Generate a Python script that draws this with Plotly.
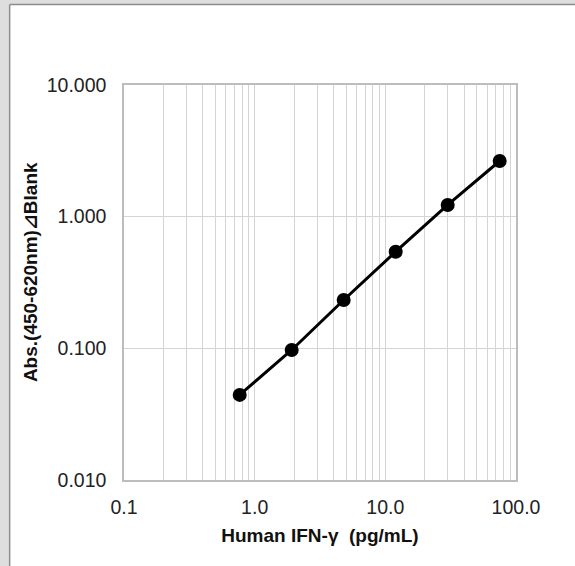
import plotly.graph_objects as go

# Data
conc_pg_ml = [0.768, 1.92, 4.8, 12.0, 30.0, 75.0]
absorbance = [0.0443, 0.0972, 0.233, 0.542, 1.227, 2.648]

x_tick_vals = [0.1, 1, 10, 100]
x_tick_text = ["0.1", "1.0", "10.0", "100.0"]
y_tick_vals = [0.01, 0.1, 1, 10]
y_tick_text = ["0.010", "0.100", "1.000", "10.000"]
x_minor_vals = [m * d for d in (0.1, 1, 10) for m in range(2, 10)]

x_title = "Human IFN-γ  (pg/mL)"
y_title = "Abs.(450-620nm)<span style='font-family:DejaVu Sans'>⊿</span>Blank"

W, H = 575, 566
ML, MR, MT, MB = 124, 58.5, 85, 86
PW = W - ML - MR
PH = H - MT - MB

def px(x):
    return (x - ML) / PW

def py(y):
    return (H - MB - y) / PH

fig = go.Figure()
fig.add_trace(go.Scatter(
    x=conc_pg_ml, y=absorbance, mode="lines+markers",
    line=dict(color="black", width=3),
    marker=dict(color="black", size=14),
    showlegend=False,
))

grid = "#d4d4d4"
frame = "#bdbdbd"
font = "Liberation Sans, Arial, sans-serif"

fig.update_xaxes(
    type="log", range=[-1, 2],
    tickvals=x_tick_vals, ticktext=x_tick_text,
    showgrid=True, gridcolor=grid, gridwidth=1,
    minor=dict(tickvals=x_minor_vals, showgrid=True, gridcolor=grid, gridwidth=1, ticks=""),
    showline=True, linecolor=frame, linewidth=1.5, mirror=True,
    ticks="", ticklen=0, ticklabelstandoff=9,
    tickfont=dict(family=font, size=19.5, color="#222"),
    title=dict(text="<b>" + x_title + "</b>", font=dict(family=font, size=19, color="#111"), standoff=12),
    zeroline=False,
)
fig.update_yaxes(
    type="log", range=[-2, 1],
    tickvals=y_tick_vals, ticktext=y_tick_text,
    showgrid=True, gridcolor=grid, gridwidth=1,
    showline=True, linecolor=frame, linewidth=1.5, mirror=True,
    ticks="", ticklen=0, ticklabelstandoff=12,
    tickfont=dict(family=font, size=19.5, color="#222"),
    zeroline=False,
)

fig.add_annotation(
    text="<b>" + y_title + "</b>", textangle=-90,
    xref="paper", yref="paper", x=px(30), y=py(272),
    xanchor="center", yanchor="middle", showarrow=False,
    font=dict(family=font, size=19, color="#111"),
)

shapes = [
    dict(type="rect", xref="paper", yref="paper", x0=px(-5), x1=px(9), y0=py(H + 5), y1=py(-5),
         fillcolor="#dedede", line=dict(width=0), layer="below"),
    dict(type="rect", xref="paper", yref="paper", x0=px(-5), x1=px(W + 5), y0=py(4.5), y1=py(-5),
         fillcolor="#dedede", line=dict(width=0), layer="below"),
    dict(type="line", xref="paper", yref="paper", x0=px(9.5), x1=px(9.5), y0=py(4.5), y1=py(H + 5),
         line=dict(color="#8c8c8c", width=1.5)),
    dict(type="line", xref="paper", yref="paper", x0=px(9.5), x1=px(W + 5), y0=py(4.5), y1=py(4.5),
         line=dict(color="#8c8c8c", width=1.5)),
]

fig.update_layout(
    width=W, height=H,
    margin=dict(l=ML, r=MR, t=MT, b=MB),
    paper_bgcolor="white", plot_bgcolor="white",
    shapes=shapes,
)

fig.write_html("out.html")
